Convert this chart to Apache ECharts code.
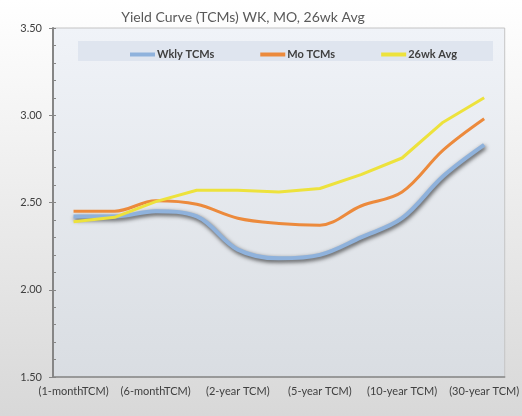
<!DOCTYPE html>
<html>
<head>
<meta charset="utf-8">
<script src="https://cdn.jsdelivr.net/npm/echarts@6/dist/echarts.min.js"></script>
<style>
html,body{margin:0;padding:0;}
#chart{width:522px;height:416px;}
</style>
</head>
<body>
<div id="chart"></div>
<script>
var titleText = 'Yield Curve (TCMs) WK, MO, 26wk Avg';
var categories = ['(1-monthTCM)','(3-monthTCM)','(6-monthTCM)','(1-year TCM)','(2-year TCM)','(3-year TCM)','(5-year TCM)','(7-year TCM)','(10-year TCM)','(20-year TCM)','(30-year TCM)'];
var seriesNames = ['Wkly TCMs','Mo TCMs','26wk Avg'];
var wkly = [2.42, 2.42, 2.45, 2.42, 2.23, 2.18, 2.20, 2.30, 2.41, 2.65, 2.83];
var mo = [2.45, 2.45, 2.51, 2.49, 2.41, 2.38, 2.37, 2.48, 2.56, 2.80, 2.98];
var avg26 = [2.39, 2.415, 2.505, 2.57, 2.57, 2.56, 2.58, 2.66, 2.755, 2.96, 3.10];
var yMin = 1.5, yMax = 3.5, yStep = 0.5, yMinorStep = 0.1;

var font = 'Lato, "Liberation Sans", sans-serif';
var chart = echarts.init(document.getElementById('chart'));
var axisColor = '#868686';
chart.setOption({
  animation: false,
  backgroundColor: new echarts.graphic.LinearGradient(0,0,0,1,[{offset:0,color:'#ffffff'},{offset:1,color:'#d8d8d8'}]),
  title: {
    text: titleText, left: 238, top: 5, textAlign: 'center',
    textStyle: {fontFamily: font, fontSize: 14, fontWeight: 'normal', color: '#595959'}
  },
  graphic: [{
    type: 'rect', left: 78, top: 41, z: 1,
    shape: {width: 415, height: 20},
    style: {fill: '#dfe5ef'}
  }],
  legend: {
    data: seriesNames, left: 125, top: 44, itemGap: 46,
    itemWidth: 25, itemHeight: 4, icon: 'rect', z: 5,
    textStyle: {fontFamily: font, fontSize: 11, fontWeight: 'bold', color: '#404040', padding: [0,0,0,-3]}
  },
  grid: {
    left: 53, right: 13, top: 28, bottom: 39, show: true,
    borderColor: '#c4c4c4', borderWidth: 1,
    backgroundColor: new echarts.graphic.LinearGradient(0,0,0,1,[{offset:0,color:'#f0f3f8'},{offset:1,color:'#d9dde2'}])
  },
  xAxis: [{
    type: 'category', data: categories, boundaryGap: true,
    axisLine: {lineStyle: {color: axisColor, width: 1.5}},
    axisTick: {interval: 0, length: 4, lineStyle: {color: axisColor}},
    axisLabel: {interval: 1, margin: 9, fontFamily: font, fontSize: 11, color: '#404040'},
    splitLine: {show: false}
  },{
    type: 'category', data: categories, boundaryGap: true, position: 'bottom',
    axisLine: {show: false},
    axisTick: {interval: 0, alignWithLabel: true, inside: true, length: 3, lineStyle: {color: axisColor}},
    axisLabel: {show: false},
    splitLine: {show: false}
  }],
  yAxis: [{
    type: 'value', min: yMin, max: yMax, interval: yStep,
    axisLine: {show: true, lineStyle: {color: axisColor, width: 2}},
    axisTick: {show: true, length: 4, lineStyle: {color: axisColor}},
    axisLabel: {margin: 11, fontFamily: font, fontSize: 11, color: '#404040', formatter: function(v){return v.toFixed(2);}},
    splitLine: {show: false}
  },{
    type: 'value', min: yMin, max: yMax, interval: yMinorStep, position: 'left',
    axisLine: {show: false},
    axisTick: {show: true, inside: true, length: 3, lineStyle: {color: axisColor}},
    axisLabel: {show: false},
    splitLine: {show: false}
  }],
  series: [{
    name: seriesNames[0], type: 'line', data: wkly, smooth: 0.35, symbol: 'none', z: 3,
    lineStyle: {color: '#8fb2dc', width: 4, shadowColor: 'rgba(0,0,0,0.7)', shadowBlur: 4, shadowOffsetX: 1, shadowOffsetY: 2},
    itemStyle: {color: '#8fb2dc'}
  },{
    name: seriesNames[1], type: 'line', data: mo, smooth: 0.35, symbol: 'none', z: 3,
    lineStyle: {color: '#ec8a3c', width: 3},
    itemStyle: {color: '#ec8a3c'}
  },{
    name: seriesNames[2], type: 'line', data: avg26, smooth: false, symbol: 'none', z: 3,
    lineStyle: {color: '#ede23c', width: 3},
    itemStyle: {color: '#ede23c'}
  }]
});
</script>
</body>
</html>
